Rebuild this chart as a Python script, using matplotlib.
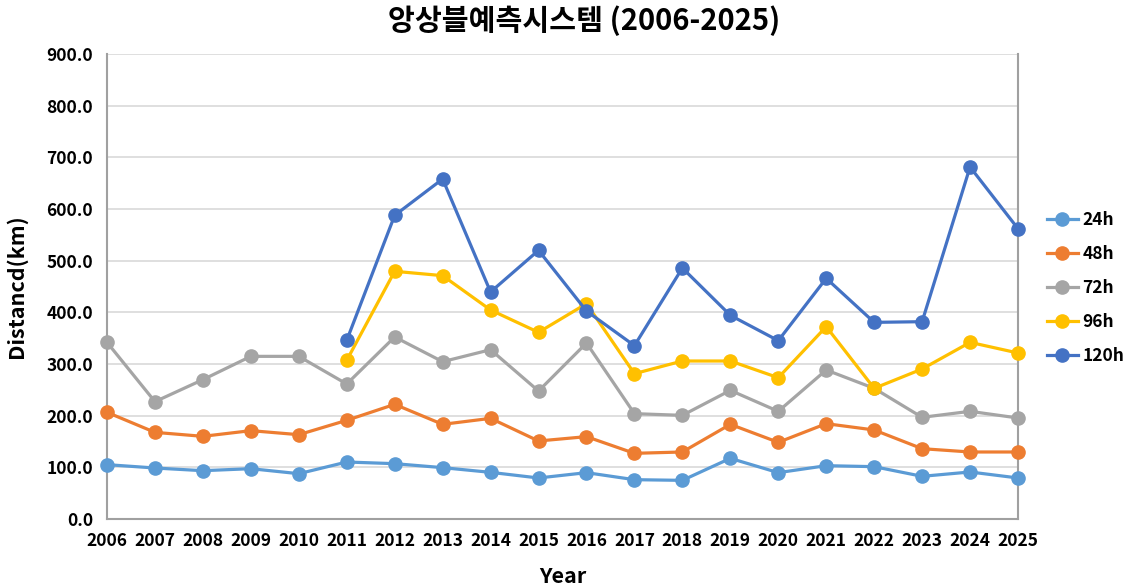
import matplotlib
matplotlib.use("Agg")
import matplotlib.pyplot as plt
from matplotlib.ticker import FormatStrFormatter

plt.rcParams['font.family'] = ['Noto Sans CJK KR', 'DejaVu Sans']

years = list(range(2006, 2026))
err_24h = [105.2, 98.7, 93.5, 97.4, 87.7, 110.3, 107.1, 99.4, 90.3, 79.4,
           89.7, 76.1, 74.8, 117.4, 89.7, 103.2, 101.3, 82.6, 91.0, 79.4]
err_48h = [206.5, 167.7, 160.0, 171.0, 163.2, 191.0, 221.9, 183.2, 194.8, 151.0,
           159.4, 127.1, 129.7, 183.2, 148.4, 184.5, 172.3, 136.1, 129.7, 129.7]
err_72h = [341.9, 227.1, 269.7, 314.8, 314.8, 261.3, 352.3, 304.5, 327.7, 247.7,
           340.6, 203.9, 200.6, 249.0, 208.4, 288.4, 252.9, 196.8, 208.4, 195.5]
years_long = list(range(2011, 2026))
err_96h = [307.1, 479.4, 471.0, 404.5, 361.3,
           416.8, 281.3, 305.8, 305.8, 273.5, 372.3, 252.9, 290.3, 341.9, 321.3]
err_120h = [345.8, 587.7, 658.1, 439.4, 520.0,
            402.6, 335.5, 485.8, 394.2, 345.2, 465.8, 380.6, 381.9, 681.3, 561.9]

series = [
    ("24h", years, err_24h, "#5B9BD5"),
    ("48h", years, err_48h, "#ED7D31"),
    ("72h", years, err_72h, "#A5A5A5"),
    ("96h", years_long, err_96h, "#FFC000"),
    ("120h", years_long, err_120h, "#4472C4"),
]

fig = plt.figure(figsize=(11.28, 5.88), dpi=100)
ax = fig.add_axes([107 / 1128, 1 - 519 / 588, (1018 - 107) / 1128, (519 - 54) / 588])

for name, xs, ys, color in series:
    ax.plot(xs, ys, color=color, lw=2.3, marker='o', markersize=9.5,
            label=name, clip_on=False, zorder=3)

ax.set_xlim(2006, 2025)
ax.set_ylim(0, 900)
ax.set_yticks(range(0, 901, 100))
ax.yaxis.set_major_formatter(FormatStrFormatter('%.1f'))
ax.set_xticks(years)
ax.grid(axis='y', color='#D9D9D9', lw=1.2, zorder=0)
ax.tick_params(axis='y', length=0, labelsize=12.5, pad=10)
ax.tick_params(axis='x', length=0, labelsize=12.5, pad=9)
for lab in ax.get_xticklabels() + ax.get_yticklabels():
    lab.set_fontweight('bold')

for side in ['left', 'bottom', 'right']:
    ax.spines[side].set_color('#A0A0A0')
    ax.spines[side].set_linewidth(1.5)
ax.spines['top'].set_visible(False)

ax.set_xlabel('Year', fontsize=15.5, fontweight='bold', labelpad=12)
ax.set_ylabel('Distancd(km)', fontsize=15.5, fontweight='bold', labelpad=14)
fig.text(0.518, 1 - 21 / 588, '앙상블예측시스템 (2006-2025)', ha='center', va='center',
         fontsize=21, fontweight='bold')

leg = ax.legend(loc='center left', bbox_to_anchor=(1.018, 0.497), frameon=False,
                prop={'size': 12.5, 'weight': 'bold'}, handlelength=1.8,
                labelspacing=0.92, handletextpad=0.25, borderaxespad=0.3)

fig.savefig('out.png', dpi=100, facecolor='white')
